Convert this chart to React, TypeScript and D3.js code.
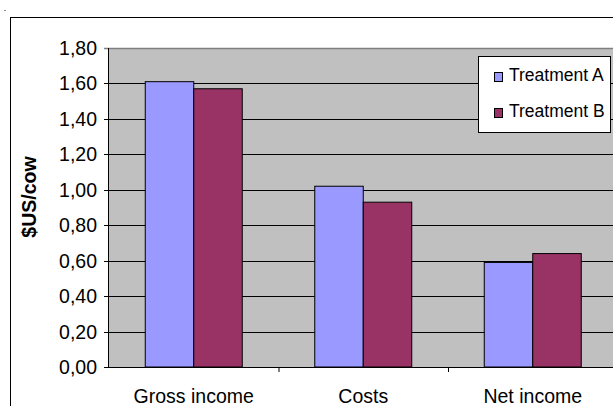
import React from "react";
import * as d3 from "d3";

const categories = ["Gross income", "Costs", "Net income"];
const seriesNames = ["Treatment A", "Treatment B"];
const treatmentA = [1.61, 1.02, 0.59];
const treatmentB = [1.57, 0.93, 0.64];
const yTicks = [0, 0.2, 0.4, 0.6, 0.8, 1.0, 1.2, 1.4, 1.6, 1.8];
const colors = ["#9999ff", "#993366"];

export default function App() {
  const W = 613, H = 406;
  const plotL = 109, plotT = 48, plotB = 367, band = 169.5;
  const plotR = plotL + band * categories.length;
  const x = d3.scaleBand().domain(categories).range([plotL, plotR]);
  const y = d3.scaleLinear().domain([0, 1.8]).range([plotB, plotT]);
  const barW = 48.5;
  const fmt = (v: number) => v.toFixed(2).replace(".", ",");
  const font = "'Liberation Sans', Arial, sans-serif";
  const series = [treatmentA, treatmentB];
  return (
    <svg width={W} height={H} style={{ position: "absolute", left: 0, top: 0, background: "#fff" }} fontFamily={font}>
      <rect x={0} y={0} width={W} height={H} fill="#fff" />
      <line x1={4} y1={10.5} x2={6} y2={10.5} stroke="#888" strokeWidth={1} />
      <rect x={10.5} y={17.5} width={W + 20} height={H + 20} fill="#fff" stroke="#000" strokeWidth={1} />
      <rect x={plotL} y={plotT} width={plotR - plotL} height={plotB - plotT} fill="#c0c0c0" />
      {yTicks.map((t) => (
        <g key={t}>
          <line x1={plotL - 5} x2={plotR} y1={Math.round(y(t)) + 0.5} y2={Math.round(y(t)) + 0.5}
            stroke={t === 1.8 ? "#808080" : "#000"} strokeWidth={t === 1.8 ? 1.5 : 1} />
          <text x={97} y={y(t) + 7} textAnchor="end" fontSize={19.5} fill="#000">{fmt(t)}</text>
        </g>
      ))}
      <line x1={plotL - 0.5} x2={plotL - 0.5} y1={plotT} y2={plotB} stroke="#000" />
      {categories.map((c, i) => (
        <g key={c}>
          <line x1={x(c)! + band + 0.5} x2={x(c)! + band + 0.5} y1={plotB} y2={plotB + 5} stroke="#000" />
          <text x={x(c)! + band / 2} y={plotB + 36} textAnchor="middle" fontSize={19.5}>{c}</text>
          {series.map((s, j) => {
            const bx = x(c)! + band / 2 - barW + j * barW;
            return (
              <rect key={j} x={bx} y={y(s[i])} width={barW} height={plotB - y(s[i])}
                fill={colors[j]} stroke="#000" strokeWidth={1} />
            );
          })}
        </g>
      ))}
      <text transform={`translate(36,197) rotate(-90)`} textAnchor="middle"
        fontSize={19.5} fontWeight="bold">$US/cow</text>
      <rect x={478.5} y={56.5} width={132} height={76} fill="#fff" stroke="#000" />
      {seriesNames.map((n, j) => (
        <g key={n}>
          <rect x={494.5} y={72.5 + j * 36} width={8} height={9} fill={colors[j]} stroke="#000" />
          <text x={509} y={81 + j * 36} fontSize={17.5}>{n}</text>
        </g>
      ))}
    </svg>
  );
}
